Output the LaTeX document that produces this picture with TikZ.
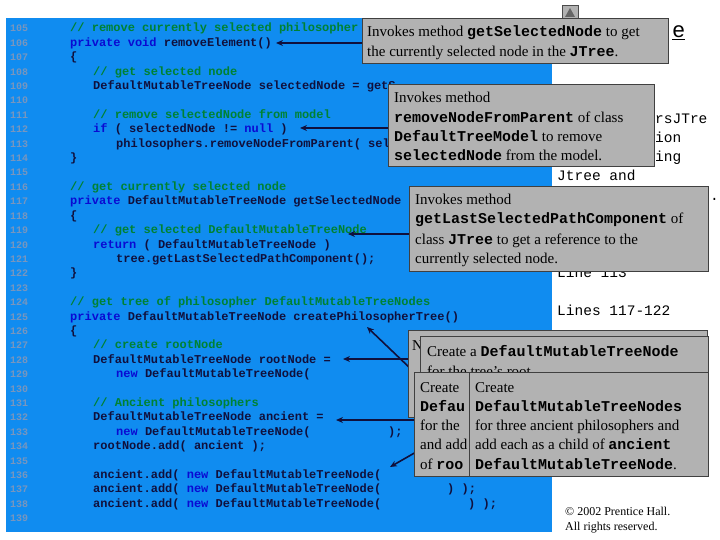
\documentclass[tikz,border=0pt]{standalone}
\usepackage{fontspec}
\setmainfont{Liberation Serif}
\newfontfamily\cmono{Liberation Mono}
\usetikzlibrary{arrows.meta}
\definecolor{panel}{RGB}{16,140,240}
\definecolor{cmt}{RGB}{0,130,50}
\definecolor{kw}{RGB}{10,10,210}
\definecolor{txt}{RGB}{16,16,60}
\definecolor{lnum}{RGB}{120,150,190}
\definecolor{boxg}{RGB}{178,178,178}
\newcommand\ly[1]{{32+14.4*(#1-105)}}
\newcommand\cm[1]{\textcolor{cmt}{#1}}
\newcommand\kw[1]{\textcolor{kw}{#1}}
\newcommand\mb[1]{{\cmono\bfseries #1}}
\begin{document}
\begin{tikzpicture}[x=1pt,y=-1pt,
  code/.style={anchor=base west,inner sep=0,font=\cmono\bfseries\fontsize{12}{12}\selectfont,text=txt},
  num/.style={anchor=base west,inner sep=0,font=\cmono\bfseries\fontsize{10}{10}\selectfont,text=lnum},
  side/.style={anchor=base west,inner sep=0,font=\cmono\fontsize{14.5}{14.5}\selectfont,text=black},
  ct/.style={anchor=base west,inner sep=0,font=\fontsize{15}{15}\selectfont,text=black},
  callout/.style={fill=boxg,draw=black!75,line width=0.8pt},
  arr/.style={draw=txt,line width=1.6pt,-{Stealth[length=7pt,width=6pt]}}]
\useasboundingbox (0,0) rectangle (720,540);
\fill[white] (0,0) rectangle (720,540);
\fill[panel] (6,18) rectangle (552,532);
\foreach \n in {105,...,139} {\node[num] at (10,\ly{\n}) {\n};}
\node[code] at (70,\ly{105}) {\cm{// remove currently selected philosopher}};
\node[code] at (70,\ly{106}) {\kw{private void} removeElement()};
\node[code] at (70,\ly{107}) {\{};
\node[code] at (93,\ly{108}) {\cm{// get selected node}};
\node[code] at (93,\ly{109}) {DefaultMutableTreeNode selectedNode = getS};
\node[code] at (93,\ly{111}) {\cm{// remove selectedNode from model}};
\node[code] at (93,\ly{112}) {\kw{if} ( selectedNode != \kw{null} )};
\node[code] at (116,\ly{113}) {philosophers.removeNodeFromParent( sel};
\node[code] at (70,\ly{114}) {\}};
\node[code] at (70,\ly{116}) {\cm{// get currently selected node}};
\node[code] at (70,\ly{117}) {\kw{private} DefaultMutableTreeNode getSelectedNode};
\node[code] at (70,\ly{118}) {\{};
\node[code] at (93,\ly{119}) {\cm{// get selected DefaultMutableTreeNode}};
\node[code] at (93,\ly{120}) {\kw{return} ( DefaultMutableTreeNode )};
\node[code] at (116,\ly{121}) {tree.getLastSelectedPathComponent();};
\node[code] at (70,\ly{122}) {\}};
\node[code] at (70,\ly{124}) {\cm{// get tree of philosopher DefaultMutableTreeNodes}};
\node[code] at (70,\ly{125}) {\kw{private} DefaultMutableTreeNode createPhilosopherTree()};
\node[code] at (70,\ly{126}) {\{};
\node[code] at (93,\ly{127}) {\cm{// create rootNode}};
\node[code] at (93,\ly{128}) {DefaultMutableTreeNode rootNode =};
\node[code] at (116,\ly{129}) {\kw{new} DefaultMutableTreeNode(};
\node[code] at (93,\ly{131}) {\cm{// Ancient philosophers}};
\node[code] at (93,\ly{132}) {DefaultMutableTreeNode ancient =};
\node[code] at (116,\ly{133}) {\kw{new} DefaultMutableTreeNode(};
\node[code] at (388,\ly{133}) {);};
\node[code] at (93,\ly{134}) {rootNode.add( ancient );};
\node[code] at (93,\ly{136}) {ancient.add( \kw{new} DefaultMutableTreeNode(};
\node[code] at (93,\ly{137}) {ancient.add( \kw{new} DefaultMutableTreeNode(};
\node[code] at (447,\ly{137}) {) );};
\node[code] at (93,\ly{138}) {ancient.add( \kw{new} DefaultMutableTreeNode(};
\node[code] at (468,\ly{138}) {) );};
% right side text
\draw[fill=boxg,draw=black!70] (562,5) rectangle (578,22);
\fill[black!60] (570,8) -- (575,17) -- (565,17) -- cycle;
\node[side,font=\cmono\fontsize{22}{22}\selectfont] at (672,38) {\underline{e}};
\node[side] at (655,124) {rsJTre};
\node[side] at (655,143) {ion};
\node[side] at (655,162) {ing};
\node[side] at (557,181) {Jtree and};
\node[side] at (710,201) {.};
\node[side] at (557,277) {Line 113};
\node[side] at (557,315) {Lines 117-122};
\node[ct,font=\fontsize{12}{12}\selectfont] at (565,515) {\textcopyright{} 2002 Prentice Hall.};
\node[ct,font=\fontsize{12}{12}\selectfont] at (565,530) {All rights reserved.};
% arrows
\coordinate (t1) at (276,43); \coordinate (s1) at (370,43);
\coordinate (t2) at (300,128); \coordinate (s2) at (395,128);
\coordinate (t3) at (348,234); \coordinate (s3) at (415,234);
\coordinate (t4) at (367,327); \coordinate (s4) at (412,370);
\coordinate (t5) at (343,359); \coordinate (s5) at (412,359);
\coordinate (t6) at (336,420); \coordinate (s6) at (418,420);
\coordinate (t7) at (390,467); \coordinate (s7) at (472,420);
\foreach \i in {1,...,7} {\draw[arr] (s\i) -- (t\i);}
% callouts
\draw[callout] (362,18) rectangle (668,63);
\node[ct] at (367,37) {Invokes method \mb{getSelectedNode} to get};
\node[ct] at (367,57) {the currently selected node in the \mb{JTree}.};
\draw[callout] (388,84) rectangle (654,166);
\node[ct] at (394,103) {Invokes method};
\node[ct] at (394,123) {\mb{removeNodeFromParent} of class};
\node[ct] at (394,142) {\mb{DefaultTreeModel} to remove};
\node[ct] at (394,161) {\mb{selectedNode} from the model.};
\draw[callout] (409,186) rectangle (708,271);
\node[ct] at (415,205) {Invokes method};
\node[ct] at (415,224) {\mb{getLastSelectedPathComponent} of};
\node[ct] at (415,244) {class \mb{JTree} to get a reference to the};
\node[ct] at (415,263) {currently selected node.};
\draw[callout] (408,330) rectangle (707,417);
\node[ct] at (412,350) {N};
\draw[callout] (420,336) rectangle (708,412);
\node[ct] at (427,356) {Create a \mb{DefaultMutableTreeNode}};
\begin{scope}
\clip (420,336) rectangle (708,371);
\node[ct] at (427,376) {for the tree’s root.};
\end{scope}
\draw[callout] (414,372) rectangle (600,476);
\node[ct] at (420,392) {Create};
\node[ct] at (420,411) {\mb{Defau}};
\node[ct] at (420,430) {for the};
\node[ct] at (420,449) {and add};
\node[ct] at (420,469) {of \mb{roo}};
\draw[callout] (469,372) rectangle (708,476);
\node[ct] at (475,392) {Create};
\node[ct] at (475,411) {\mb{DefaultMutableTreeNodes}};
\node[ct] at (475,430) {for three ancient philosophers and};
\node[ct] at (475,449) {add each as a child of \mb{ancient}};
\node[ct] at (475,469) {\mb{DefaultMutableTreeNode}.};
\end{tikzpicture}
\end{document}
